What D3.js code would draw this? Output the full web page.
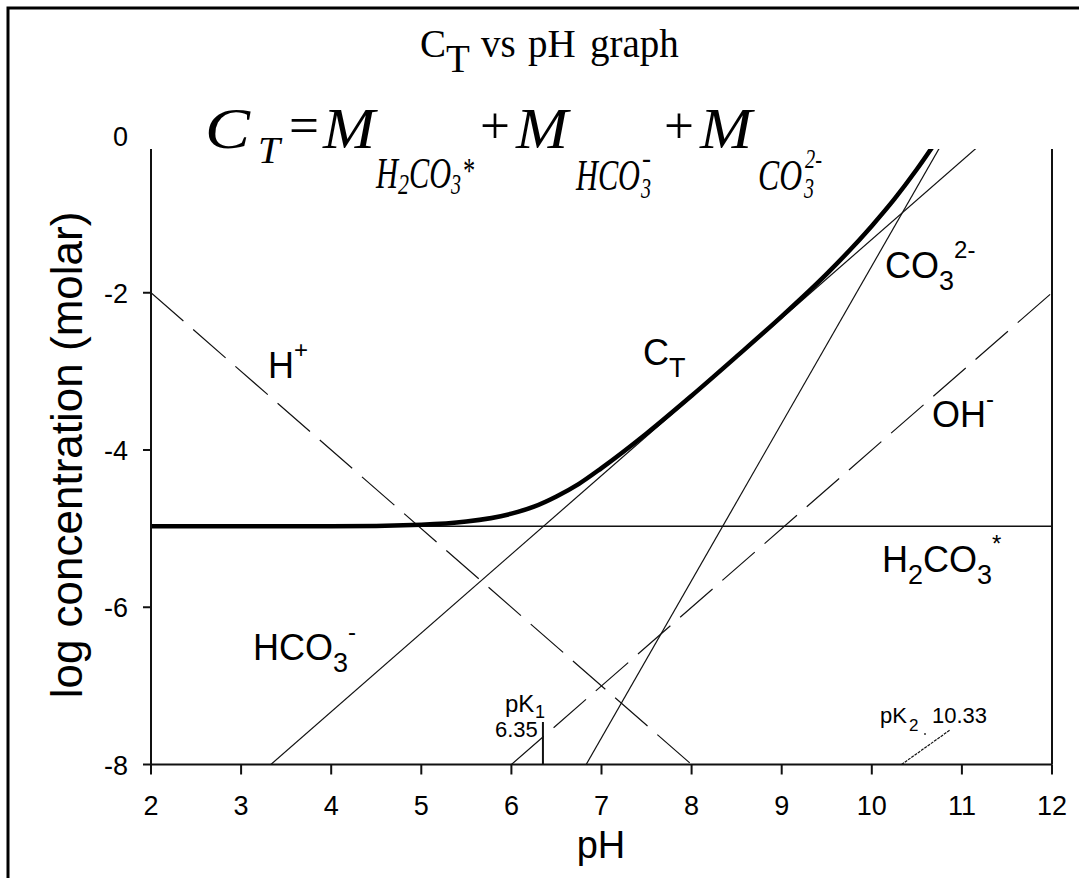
<!DOCTYPE html>
<html>
<head>
<meta charset="utf-8">
<script src="https://cdn.jsdelivr.net/npm/d3@7"></script>
<style>
  body { margin: 0; background: #fff; }
  text { font-family: "Liberation Sans", Arial, sans-serif; fill: #000; }
  .serif { font-family: "Liberation Serif", "Times New Roman", serif; }
</style>
</head>
<body>
<div id="chart"></div>
<script>
// axis ticks
const phTicks = [2, 3, 4, 5, 6, 7, 8, 9, 10, 11, 12];
const logTicks = [0, -2, -4, -6, -8];

// straight species lines (pH, log conc)
const hPH = [2, 8],        hLog = [-2, -8];
const ohPH = [6, 12],      ohLog = [-8, -2];
const h2co3PH = [2, 12],   h2co3Log = [-4.97, -4.97];
const hco3PH = [3.33, 11.32], hco3Log = [-8, 0];
const co3PH = [6.83, 10.83],  co3Log = [-8, 0];

// total carbonate curve
const ctPH  = [2, 4, 5, 5.5, 6, 6.25, 6.5, 6.75, 7, 7.5, 8, 8.5, 9, 9.5, 10, 10.25, 10.5, 10.7];
const ctLog = [-4.97, -4.97, -4.95, -4.91, -4.81, -4.72, -4.59, -4.43, -4.23, -3.79, -3.31, -2.81, -2.30, -1.76, -1.15, -0.81, -0.43, -0.10];

const pK1 = 6.35, pK2 = 10.33;

const width = 1079, height = 878;

const svg = d3.select("#chart")
  .append("svg")
  .attr("width", width)
  .attr("height", height)
  .style("background", "#fff");

// outer frame (only left & top visible)
svg.append("path")
  .attr("d", "M8,880 V8 H1082")
  .attr("fill", "none")
  .attr("stroke", "#000")
  .attr("stroke-width", 3);

const x = d3.scaleLinear().domain([2, 12]).range([151, 1052]);
const y = d3.scaleLinear().domain([-8, 0]).range([764.5, 135.5]);
const plotTop = 149;

// clip for the curves
svg.append("clipPath").attr("id", "clip")
  .append("rect")
  .attr("x", x(2)).attr("y", plotTop)
  .attr("width", x(12) - x(2)).attr("height", y(-8) - plotTop);

const zip = (a, b) => a.map((v, i) => [v, b[i]]);
const line = d3.line().x(d => x(d[0])).y(d => y(d[1]));

const g = svg.append("g").attr("clip-path", "url(#clip)");

g.append("path").datum(zip(h2co3PH, h2co3Log))
  .attr("d", line).attr("fill", "none").attr("stroke", "#111").attr("stroke-width", 1.3);
g.append("path").datum(zip(hco3PH, hco3Log))
  .attr("d", line).attr("fill", "none").attr("stroke", "#111").attr("stroke-width", 1.2);
g.append("path").datum(zip(co3PH, co3Log))
  .attr("d", line).attr("fill", "none").attr("stroke", "#111").attr("stroke-width", 1.2);
g.append("path").datum(zip(hPH, hLog))
  .attr("d", line).attr("fill", "none").attr("stroke", "#111").attr("stroke-width", 1.2)
  .attr("stroke-dasharray", "43,13");
g.append("path").datum(zip(ohPH, ohLog))
  .attr("d", line).attr("fill", "none").attr("stroke", "#111").attr("stroke-width", 1.2)
  .attr("stroke-dasharray", "43,13");

g.append("path").datum(zip(ctPH, ctLog))
  .attr("d", d3.line().x(d => x(d[0])).y(d => y(d[1])).curve(d3.curveMonotoneX))
  .attr("fill", "none").attr("stroke", "#000").attr("stroke-width", 4.5)
  .attr("stroke-linecap", "round");

// axes
svg.append("line")
  .attr("x1", x(2)).attr("x2", x(2)).attr("y1", plotTop).attr("y2", y(-8))
  .attr("stroke", "#111").attr("stroke-width", 2);
svg.append("line")
  .attr("x1", x(12)).attr("x2", x(12)).attr("y1", plotTop).attr("y2", y(-8))
  .attr("stroke", "#111").attr("stroke-width", 2);
svg.append("line")
  .attr("x1", x(2)).attr("x2", x(12)).attr("y1", y(-8)).attr("y2", y(-8))
  .attr("stroke", "#111").attr("stroke-width", 2);

phTicks.forEach(t => {
  svg.append("line")
    .attr("x1", x(t)).attr("x2", x(t)).attr("y1", y(-8)).attr("y2", y(-8) + 10)
    .attr("stroke", "#111").attr("stroke-width", 2);
  svg.append("text")
    .attr("x", x(t)).attr("y", 815)
    .attr("text-anchor", "middle")
    .style("font-size", "27px")
    .text(t);
});

logTicks.forEach(t => {
  if (t < 0) {
    svg.append("line")
      .attr("x1", x(2) - 8).attr("x2", x(2)).attr("y1", y(t)).attr("y2", y(t))
      .attr("stroke", "#111").attr("stroke-width", 2);
  }
  svg.append("text")
    .attr("x", 128).attr("y", y(t) + 10)
    .attr("text-anchor", "end")
    .style("font-size", "27px")
    .text(t);
});

// axis labels
svg.append("text")
  .attr("x", 601).attr("y", 858)
  .attr("text-anchor", "middle")
  .style("font-size", "38px")
  .text("pH");

svg.append("text")
  .attr("transform", "translate(82,455) rotate(-90)")
  .attr("text-anchor", "middle")
  .style("font-size", "44px")
  .text("log concentration (molar)");

// title
function ttl(txt, px, py) {
  svg.append("text").attr("class", "serif")
    .attr("x", px).attr("y", py).style("font-size", "39px").text(txt);
}
ttl("C", 420, 57);
ttl("T", 446, 72);
ttl("vs", 481, 57);
ttl("pH", 528, 57);
ttl("graph", 590, 57);

// formula
function piece(txt, px, py, size, italic, len) {
  const t = svg.append("text").attr("class", "serif")
    .attr("x", px).attr("y", py)
    .style("font-size", size + "px")
    .style("font-style", italic ? "italic" : "normal")
    .text(txt);
  if (len) t.attr("textLength", len).attr("lengthAdjust", "spacingAndGlyphs");
}
piece("C", 205, 148, 58, true, 45);
piece("T", 258, 163, 38, true, 22);
piece("=", 289, 143, 52, false, 30);
piece("M", 323, 148, 58, true, 52);
piece("H", 376, 188, 44, true, 22);
piece("2", 398, 194, 30, true, 11);
piece("CO", 409, 188, 44, true, 42);
piece("3", 451, 194, 30, true, 10);
piece("*", 462, 183, 36, true, 12);
piece("+", 480, 143, 52, false, 30);
piece("M", 516, 148, 58, true, 52);
piece("HCO", 576, 190, 44, true, 64);
piece("3", 641, 198, 30, true, 10);
piece("-", 642, 168, 30, true, 9);
piece("+", 664, 143, 52, false, 30);
piece("M", 700, 148, 58, true, 52);
piece("CO", 758, 190, 44, true, 44);
piece("3", 804, 198, 30, true, 10);
piece("2-", 805, 168, 28, true, 17);

// species labels
function label(px, py, parts) {
  const t = svg.append("text").attr("x", px).attr("y", py).style("font-size", "36px");
  let cur = 0;
  parts.forEach(p => {
    const off = p[1] === "sub" ? 12 : p[1] === "sup" ? -20 : 0;
    t.append("tspan")
      .attr("dy", off - cur)
      .style("font-size", p[1] === "n" ? "36px" : (p[1] === "sub" ? "27px" : "24px"))
      .text(p[0]);
    cur = off;
  });
}
label(268, 378, [["H", "n"], ["+", "sup"]]);
label(643, 365, [["C", "n"], ["T", "sub"]]);
label(885, 278, [["CO", "n"], ["3", "sub"], ["2-", "sup"]]);
label(932, 427, [["OH", "n"], ["-", "sup"]]);
label(882, 572, [["H", "n"], ["2", "sub"], ["CO", "n"], ["3", "sub"], ["*", "sup"]]);
label(253, 660, [["HCO", "n"], ["3", "sub"], ["-", "sup"]]);

// pK markers
svg.append("line")
  .attr("x1", x(pK1)).attr("x2", x(pK1)).attr("y1", 722).attr("y2", y(-8))
  .attr("stroke", "#111").attr("stroke-width", 2);
svg.append("text").attr("x", 505).attr("y", 712).style("font-size", "24px").text("pK");
svg.append("text").attr("x", 535).attr("y", 718).style("font-size", "18px").text("1");
svg.append("text").attr("x", 495).attr("y", 737).style("font-size", "22px").text(pK1.toFixed(2));

svg.append("line")
  .attr("x1", x(pK2)).attr("x2", 950).attr("y1", y(-8)).attr("y2", 730)
  .attr("stroke", "#111").attr("stroke-width", 1.2).attr("stroke-dasharray", "3,1");
svg.append("text").attr("x", 880).attr("y", 723).style("font-size", "22px").text("pK");
svg.append("text").attr("x", 909).attr("y", 731).style("font-size", "17px").text("2");
svg.append("text").attr("x", 932).attr("y", 723).style("font-size", "22px").text(pK2.toFixed(2));
svg.append("circle").attr("cx", 925).attr("cy", 734).attr("r", 1).attr("fill", "#333");
</script>
</body>
</html>
